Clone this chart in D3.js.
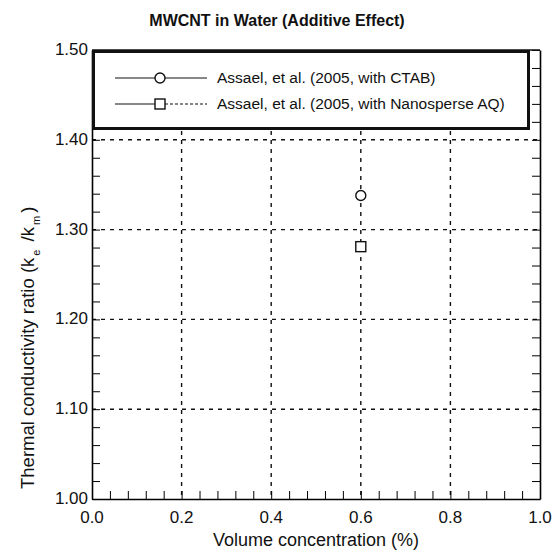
<!DOCTYPE html>
<html>
<head>
<meta charset="utf-8">
<script src="https://cdn.jsdelivr.net/npm/d3@7"></script>
<style>
  body { margin: 0; background: #fff; }
  text { font-family: "Liberation Sans", Arial, sans-serif; fill: #111; }
</style>
</head>
<body>
<div id="chart"></div>
<script>
// data
const seriesNames = ["Assael, et al. (2005, with CTAB)", "Assael, et al. (2005, with Nanosperse AQ)"];
const seriesSymbols = ["circle", "square"];
const concentration = [0.6, 0.6];
const ratio = [1.338, 1.281];
const xTicks = [0, 0.2, 0.4, 0.6, 0.8, 1.0];
const yTicks = [1.0, 1.1, 1.2, 1.3, 1.4, 1.5];

const totalWidth = 554, totalHeight = 552;
const margin = {left: 92, right: 14, top: 50, bottom: 53};
const width = totalWidth - margin.left - margin.right;
const height = totalHeight - margin.top - margin.bottom;

const svg = d3.select("#chart").append("svg")
  .attr("width", totalWidth)
  .attr("height", totalHeight);

const g = svg.append("g")
  .attr("transform", "translate(" + margin.left + "," + margin.top + ")");

const x = d3.scaleLinear().domain([0, 1]).range([0, width]);
const y = d3.scaleLinear().domain([1, 1.5]).range([height, 0]);

// dashed grid
g.selectAll(".vgrid").data(xTicks.slice(1, -1)).enter().append("line")
  .attr("x1", d => x(d)).attr("x2", d => x(d))
  .attr("y1", 0).attr("y2", height)
  .attr("stroke", "#111").attr("stroke-width", 1.4)
  .attr("stroke-dasharray", "4,5");
g.selectAll(".hgrid").data(yTicks.slice(1, -1)).enter().append("line")
  .attr("x1", 0).attr("x2", width)
  .attr("y1", d => y(d)).attr("y2", d => y(d))
  .attr("stroke", "#111").attr("stroke-width", 1.4)
  .attr("stroke-dasharray", "4,5");

// minor ticks, pointing inward
const xMinor = d3.range(0, 1.0001, 0.04);
const yMinor = d3.range(1, 1.5001, 0.02);

g.append("g")
  .attr("transform", "translate(0," + height + ")")
  .call(d3.axisBottom(x).tickValues(xMinor).tickSize(-8).tickFormat("").tickSizeOuter(0))
  .call(a => a.select(".domain").attr("stroke-width", 1.6));
g.append("g")
  .call(d3.axisLeft(y).tickValues(yMinor).tickSize(-8).tickFormat("").tickSizeOuter(0))
  .call(a => a.select(".domain").attr("stroke-width", 1.6));
g.append("g")
  .attr("transform", "translate(" + width + ",0)")
  .call(d3.axisRight(y).tickValues(yMinor).tickSize(-8).tickFormat("").tickSizeOuter(0))
  .call(a => a.select(".domain").attr("stroke-width", 1.6));
g.append("line")
  .attr("x1", 0).attr("x2", width).attr("y1", 0).attr("y2", 0)
  .attr("stroke", "#111").attr("stroke-width", 1.6);

// tick labels
g.selectAll(".xlabel").data(xTicks).enter().append("text")
  .attr("x", d => x(d)).attr("y", height + 24)
  .attr("text-anchor", "middle")
  .style("font-size", "17px")
  .text(d => d3.format(".1f")(d));
g.selectAll(".ylabel").data(yTicks).enter().append("text")
  .attr("x", -4).attr("y", d => y(d) + 5)
  .attr("text-anchor", "end")
  .style("font-size", "17px")
  .text(d => d3.format(".2f")(d));

// points
const pts = g.append("g");
concentration.forEach((c, i) => {
  if (seriesSymbols[i] === "circle") {
    pts.append("circle").attr("cx", x(c)).attr("cy", y(ratio[i])).attr("r", 5)
      .attr("fill", "#fff").attr("stroke", "#111").attr("stroke-width", 1.4);
  } else {
    pts.append("rect").attr("x", x(c) - 5).attr("y", y(ratio[i]) - 5)
      .attr("width", 10).attr("height", 10)
      .attr("fill", "#fff").attr("stroke", "#111").attr("stroke-width", 1.4);
  }
});

// legend
const leg = g.append("g");
leg.append("rect")
  .attr("x", 1.5).attr("y", 1.5).attr("width", 435).attr("height", 77)
  .attr("fill", "#fff").attr("stroke", "#111").attr("stroke-width", 3);
seriesNames.forEach((name, i) => {
  const ly = 28 + i * 26;
  leg.append("line").attr("x1", 23).attr("x2", 68).attr("y1", ly).attr("y2", ly)
    .attr("stroke", "#111").attr("stroke-width", 1.1);
  leg.append("line").attr("x1", 68).attr("x2", 115).attr("y1", ly).attr("y2", ly)
    .attr("stroke", "#111").attr("stroke-width", 1.1)
    .attr("stroke-dasharray", i === 1 ? "3,2" : null);
  if (seriesSymbols[i] === "circle") {
    leg.append("circle").attr("cx", 68).attr("cy", ly).attr("r", 5)
      .attr("fill", "#fff").attr("stroke", "#111").attr("stroke-width", 1.4);
  } else {
    leg.append("rect").attr("x", 63).attr("y", ly - 5).attr("width", 10).attr("height", 10)
      .attr("fill", "#fff").attr("stroke", "#111").attr("stroke-width", 1.4);
  }
  leg.append("text").attr("x", 125).attr("y", ly + 5)
    .style("font-size", "15.5px")
    .text(name);
});

// titles
svg.append("text")
  .attr("x", 277).attr("y", 26)
  .attr("text-anchor", "middle")
  .style("font-size", "16px").style("font-weight", "bold")
  .text("MWCNT in Water (Additive Effect)");

svg.append("text")
  .attr("x", margin.left + width / 2).attr("y", 546)
  .attr("text-anchor", "middle")
  .style("font-size", "18px")
  .text("Volume concentration (%)");

const yt = svg.append("text")
  .attr("transform", "translate(34,489) rotate(-90)")
  .attr("text-anchor", "start")
  .style("font-size", "18.5px");
yt.append("tspan").text("Thermal conductivity ratio (k");
yt.append("tspan").attr("dx", 2).attr("baseline-shift", "sub").style("font-size", "11px").text("e");
yt.append("tspan").attr("dx", 3).text(" /k");
yt.append("tspan").attr("dx", 2).attr("baseline-shift", "sub").style("font-size", "11px").text("m");
yt.append("tspan").attr("dx", 3).text(")");
</script>
</body>
</html>
